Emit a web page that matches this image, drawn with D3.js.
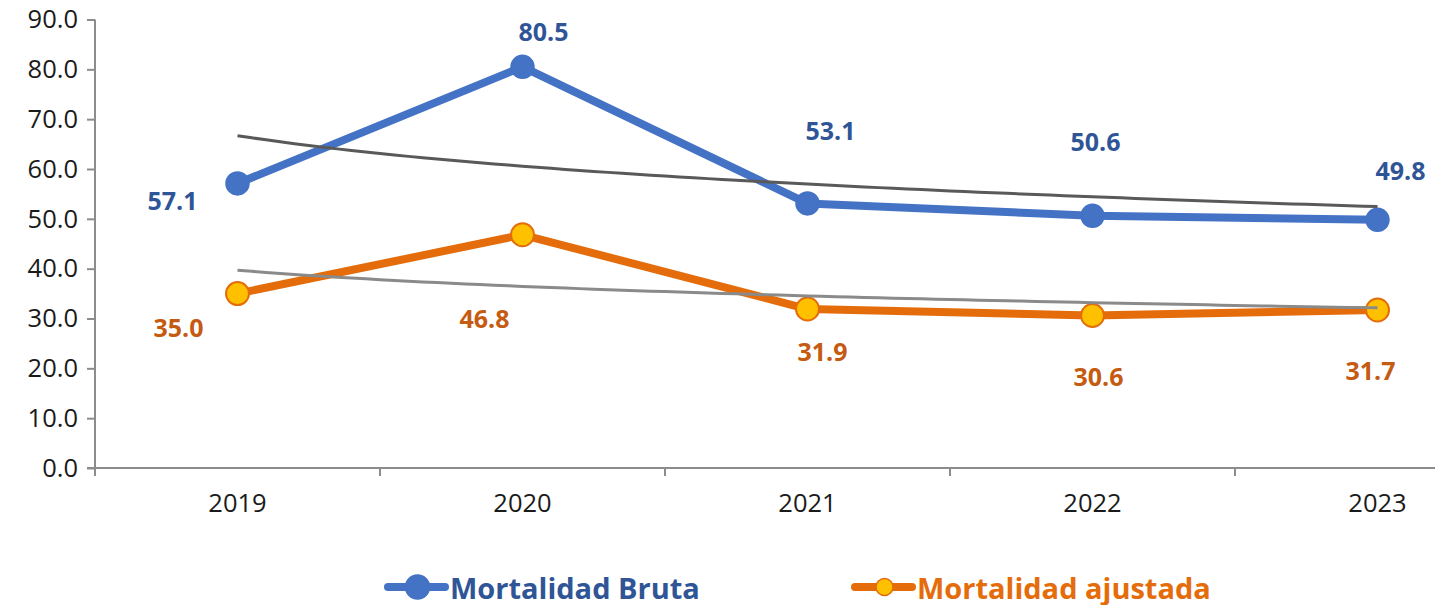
<!DOCTYPE html>
<html><head><meta charset="utf-8">
<script src="https://cdn.jsdelivr.net/npm/d3@7"></script>
<style>body{margin:0;background:#fff}svg{display:block}text{font-family:'Open Sans',sans-serif}</style>
</head><body><svg id="c" width="1435" height="605"></svg>
<script>
const years = ["2019", "2020", "2021", "2022", "2023"];
const mortalidadBruta = [57.1, 80.5, 53.1, 50.6, 49.8];
const mortalidadAjustada = [35.0, 46.8, 31.9, 30.6, 31.7];
const yTicks = [0, 10, 20, 30, 40, 50, 60, 70, 80, 90];
const seriesNames = ["Mortalidad Bruta", "Mortalidad ajustada"];

// label placement offsets (layout only)
const offBruta = [[-65, 17], [21, -36], [23, -73], [3, -75], [23, -50]];
const offAjust = [[-59, 33], [-38, 83], [15, 42], [6, 60], [-7, 60]];

const svg = d3.select("#c");
const x = d3.scaleBand().domain(years).range([95, 1520]).padding(0);
const cx = d => x(d) + x.bandwidth() / 2;
const y = d3.scaleLinear().domain([0, 90]).range([468, 19.5]);

const axisColor = "#8c8c8c";

// Y axis
const ya = svg.append("g").attr("transform", `translate(${x.range()[0]},0)`)
  .call(d3.axisLeft(y).tickValues(yTicks).tickSize(8).tickSizeOuter(0).tickPadding(9).tickFormat(d3.format(".1f")));
ya.select(".domain").remove();
ya.selectAll("line").attr("stroke", axisColor).attr("stroke-width", 2);
ya.selectAll("text").attr("font-size", 25.5).attr("fill", "#1a1a1a").style("font-family", "'Open Sans',sans-serif");

// X axis
const xa = svg.append("g").attr("transform", `translate(0,${y(0)})`)
  .call(d3.axisBottom(x).tickSize(0).tickPadding(26));
xa.select(".domain").remove();
xa.selectAll("text").attr("font-size", 25.5).attr("fill", "#1a1a1a").style("font-family", "'Open Sans',sans-serif");

// axis lines
svg.append("line").attr("x1", x.range()[0]).attr("x2", x.range()[0]).attr("y1", y(90)).attr("y2", y(0) + 8)
  .attr("stroke", axisColor).attr("stroke-width", 2);
svg.append("line").attr("x1", x.range()[0] - 8).attr("x2", x.range()[1]).attr("y1", y(0)).attr("y2", y(0))
  .attr("stroke", axisColor).attr("stroke-width", 2);
svg.selectAll(".xb").data(years).join("line").attr("class", "xb")
  .attr("x1", d => x(d)).attr("x2", d => x(d)).attr("y1", y(0)).attr("y2", y(0) + 8)
  .attr("stroke", axisColor).attr("stroke-width", 2);

// series
const line = d3.line().x((d, i) => cx(years[i])).y(d => y(d));
function logFit(vals) {
  const xs = vals.map((_, i) => Math.log(i + 1));
  const mx = d3.mean(xs), my = d3.mean(vals);
  let sxy = 0, sxx = 0;
  xs.forEach((v, i) => { sxy += (v - mx) * (vals[i] - my); sxx += (v - mx) * (v - mx); });
  const b = sxy / sxx, a = my - b * mx;
  return t => a + b * Math.log(t);
}
function trendPath(vals) {
  const f = logFit(vals);
  const ts = d3.range(1, 5.0001, 0.05);
  return d3.line().x(t => cx(years[0]) + (t - 1) * x.step()).y(t => y(f(t)))(ts);
}

const blue = "#4472C4", orange = "#E46C0A", gold = "#FFC000";
const blueLbl = "#2F5597", orangeLbl = "#C55A11";

svg.append("path").attr("d", line(mortalidadBruta)).attr("fill", "none").attr("stroke", blue).attr("stroke-width", 8).attr("stroke-linejoin", "round");
svg.append("path").attr("d", line(mortalidadAjustada)).attr("fill", "none").attr("stroke", orange).attr("stroke-width", 8).attr("stroke-linejoin", "round");

svg.selectAll(".mb").data(mortalidadBruta).join("circle").attr("class", "mb")
  .attr("cx", (d, i) => cx(years[i])).attr("cy", d => y(d)).attr("r", 11.5)
  .attr("fill", blue).attr("stroke", blue).attr("stroke-width", 1.5);
svg.selectAll(".ma").data(mortalidadAjustada).join("circle").attr("class", "ma")
  .attr("cx", (d, i) => cx(years[i])).attr("cy", d => y(d)).attr("r", 11.5)
  .attr("fill", gold).attr("stroke", orange).attr("stroke-width", 2);

// trend lines
svg.append("path").attr("d", trendPath(mortalidadBruta)).attr("fill", "none").attr("stroke", "#595959").attr("stroke-width", 3);
svg.append("path").attr("d", trendPath(mortalidadAjustada)).attr("fill", "none").attr("stroke", "#8a8a8a").attr("stroke-width", 3);

// data labels
svg.selectAll(".lb").data(mortalidadBruta).join("text").attr("class", "lb")
  .attr("x", (d, i) => cx(years[i]) + offBruta[i][0]).attr("y", (d, i) => y(d) + offBruta[i][1])
  .attr("text-anchor", "middle").attr("dominant-baseline", "central")
  .attr("font-size", 25).attr("font-weight", "bold").attr("fill", blueLbl).text(d => d.toFixed(1));
svg.selectAll(".la").data(mortalidadAjustada).join("text").attr("class", "la")
  .attr("x", (d, i) => cx(years[i]) + offAjust[i][0]).attr("y", (d, i) => y(d) + offAjust[i][1])
  .attr("text-anchor", "middle").attr("dominant-baseline", "central")
  .attr("font-size", 25).attr("font-weight", "bold").attr("fill", orangeLbl).text(d => d.toFixed(1));

// legend
const legend = [
  {name: seriesNames[0], x: 388, stroke: blue, fill: blue, r: 12, txt: blueLbl, ms: blue},
  {name: seriesNames[1], x: 855, stroke: orange, fill: gold, r: 8.5, txt: orange, ms: orange}
];
const lg = svg.selectAll(".lg").data(legend).join("g").attr("class", "lg")
  .attr("transform", d => `translate(${d.x},587)`);
lg.append("line").attr("x1", 0).attr("x2", 57).attr("y1", 0).attr("y2", 0)
  .attr("stroke", d => d.stroke).attr("stroke-width", 8).attr("stroke-linecap", "round");
lg.append("circle").attr("cx", 29.5).attr("cy", 0).attr("r", d => d.r)
  .attr("fill", d => d.fill).attr("stroke", d => d.ms).attr("stroke-width", 1.5);
lg.append("text").attr("x", 62).attr("y", 0).attr("dominant-baseline", "central")
  .attr("font-size", 29).attr("font-weight", "bold").attr("fill", d => d.txt).text(d => d.name);
</script></body></html>
